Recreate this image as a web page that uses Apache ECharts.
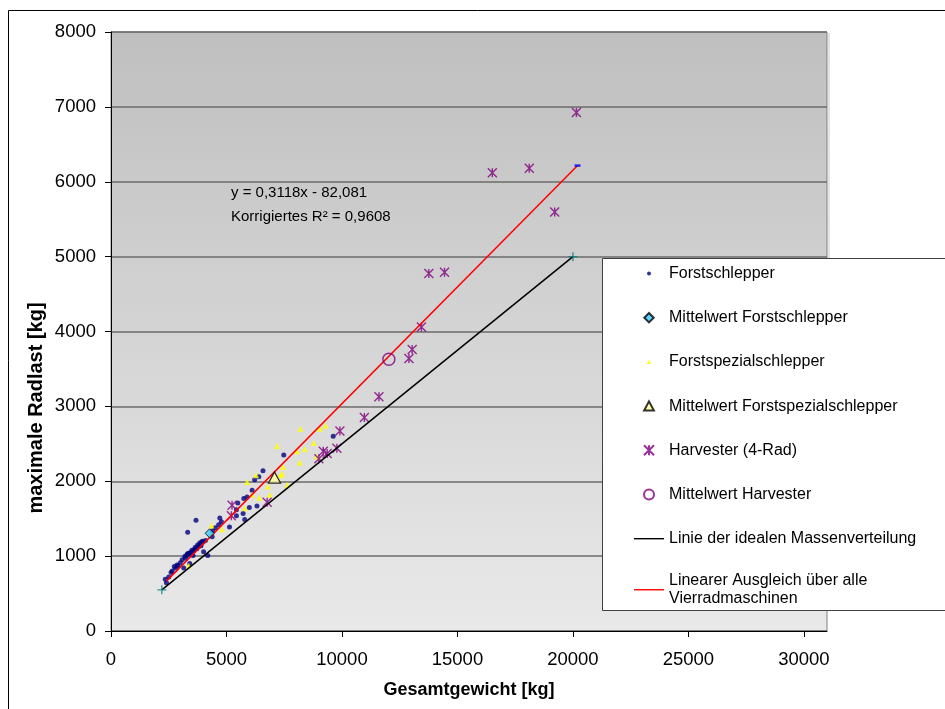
<!DOCTYPE html>
<html>
<head>
<meta charset="utf-8">
<script src="https://cdn.jsdelivr.net/npm/echarts@6/dist/echarts.min.js"></script>
<style>
  html, body { margin: 0; padding: 0; background: #fff; }
  #chart { width: 945px; height: 709px; }
</style>
</head>
<body>
<div id="chart"></div>
<script>
// Gesamtgewicht [kg] / maximale Radlast [kg]
const forstschlepper = [
  [9620, 2600], [7480, 2350], [6580, 2140], [6400, 2060], [6220, 2020], [6110, 1880],
  [5890, 1790], [5750, 1770], [5490, 1710], [6320, 1670], [5990, 1650], [5430, 1620],
  [5720, 1570], [5430, 1540], [5790, 1490], [4710, 1510], [4780, 1460], [3680, 1480],
  [4660, 1420], [5130, 1390], [4520, 1380], [4400, 1340], [3320, 1320], [4380, 1260],
  [4090, 1210], [3990, 1190], [3870, 1160], [3800, 1130], [3720, 1100], [4010, 1060],
  [3580, 1070], [3440, 1050], [3290, 1010], [3220, 970], [3080, 950], [3000, 910],
  [2860, 880], [2740, 860], [3410, 900], [3150, 840], [2600, 780], [2500, 720],
  [2350, 690], [2400, 645], [3550, 1010], [4190, 1010], [2650, 800], [2800, 840],
  [2900, 870], [3200, 1000], [3300, 1030], [3350, 1040], [3400, 1030], [3500, 1080],
  [3600, 1090], [3650, 1120], [3750, 1150], [3850, 1180], [3900, 1140], [3950, 1200]
];
const forstschlepperMittel = [[4270, 1305]];

const forstspezialschlepper = [
  [8200, 2700], [9040, 2700], [9290, 2740], [7190, 2470], [8780, 2510], [8390, 2430],
  [8060, 2400], [8170, 2250], [8900, 2330], [7450, 2190], [7340, 2080], [7410, 2100],
  [7630, 1950], [6280, 2080], [5890, 1990], [6790, 1930], [6870, 1820], [6430, 1780],
  [6110, 1820], [5790, 1640], [4350, 1410], [4810, 1360], [3360, 870]
];
const forstspezialMittel = [[7080, 2050]];

const harvester = [
  [20150, 6925], [18110, 6180], [16510, 6120], [19210, 5595], [14440, 4790], [13760, 4775],
  [13440, 4060], [13040, 3760], [12900, 3640], [11600, 3130], [10970, 2850], [9910, 2670],
  [9780, 2440], [9360, 2370], [9190, 2400], [9000, 2300], [6760, 1720], [5240, 1680],
  [5210, 1540]
];
const harvesterMittel = [[12030, 3630]];

// ideale Massenverteilung (Radlast = Gesamtgewicht / 4)
const idealeLinie = [[2200, 550], [20000, 5000]];
// linearer Ausgleich, Endpunkte
const ausgleichsLinie = [[2400, 666], [20200, 6216]];

const xTickWerte = [0, 5000, 10000, 15000, 20000, 25000, 30000];
const gleichung = 'y = 0,3118x - 82,081';
const bestimmtheit = 'Korrigiertes R\u00B2 = 0,9608';

const FONT = '"Liberation Sans", Arial, sans-serif';
const sternPfad = 'path://M0,0L10,10M10,0L0,10M5,0L5,10';
const kreuzPfad = 'path://M5,0L5,10M0,5L10,5';
// Legendensymbole mit fester Box
const iconPunkt = 'path://M0,0M10,10M3,5a2,2 0 1,0 4,0a2,2 0 1,0 -4,0Z';
const iconRaute = 'path://M0,0M10,10M5,0.3L9.7,5L5,9.7L0.3,5Z';
const iconDreieckKlein = 'path://M0,0M10,10M5,2.8L7.4,7L2.6,7Z';
const iconDreieck = 'path://M0,0M10,10M5,0.3L9.9,9.4L0.1,9.4Z';
const iconLinie = 'path://M0,0M30,10M0,4.3L30,4.3L30,5.7L0,5.7Z';

const zahl = v => String(v);

const chart = echarts.init(document.getElementById('chart'), null, { renderer: 'canvas' });

chart.setOption({
  animation: false,
  textStyle: { fontFamily: FONT },
  grid: {
    left: 111, top: 32, width: 716, height: 599,
    show: true,
    borderColor: '#808080',
    borderWidth: 1,
    backgroundColor: new echarts.graphic.LinearGradient(0, 0, 0, 1, [
      { offset: 0, color: '#bfbfbf' },
      { offset: 1, color: '#e9e9e9' }
    ])
  },
  xAxis: {
    type: 'value',
    min: 0, max: 31000, interval: 5000,
    axisLine: { show: true, lineStyle: { color: '#000', width: 1 } },
    axisTick: { show: true, length: 6, lineStyle: { color: '#000' }, customValues: xTickWerte },
    axisLabel: { customValues: xTickWerte, formatter: zahl, color: '#000', fontSize: 18.5, margin: 19, fontFamily: FONT },
    splitLine: { show: false },
    name: 'Gesamtgewicht [kg]',
    nameLocation: 'middle',
    nameGap: 50,
    nameTextStyle: { fontSize: 18, fontWeight: 'bold', color: '#000', fontFamily: FONT }
  },
  yAxis: {
    type: 'value',
    min: 0, max: 8000, interval: 1000,
    axisLine: { show: true, lineStyle: { color: '#000', width: 1 } },
    axisTick: { show: true, length: 6, lineStyle: { color: '#000' } },
    axisLabel: { formatter: zahl, color: '#000', fontSize: 18.5, margin: 15, fontFamily: FONT },
    splitLine: { show: true, lineStyle: { color: '#6b6b6b', width: 1.5 } }
  },
  legend: [
    {
      orient: 'vertical',
      left: 634, top: 265, padding: 0,
      itemWidth: 30, itemHeight: 10, itemGap: 27.2,
      selectedMode: false,
      textStyle: { fontSize: 16, lineHeight: 17, color: '#000', fontFamily: FONT },
      data: [
        { name: 'Forstschlepper', icon: iconPunkt },
        { name: 'Mittelwert Forstschlepper', icon: iconRaute },
        { name: 'Forstspezialschlepper', icon: iconDreieckKlein },
        { name: 'Mittelwert Forstspezialschlepper', icon: iconDreieck },
        { name: 'Harvester (4-Rad)' },
        { name: 'Mittelwert Harvester' },
        { name: 'Linie der idealen Massenverteilung', icon: iconLinie, itemStyle: { color: '#000' } }
      ]
    },
    {
      orient: 'vertical',
      left: 634, top: 563.5, padding: 0,
      itemWidth: 30, itemHeight: 10,
      selectedMode: false,
      textStyle: { fontSize: 16, lineHeight: 17.5, padding: [17.5, 0, 0, 0], color: '#000', fontFamily: FONT },
      data: [
        { name: 'Linearer Ausgleich über alle\nVierradmaschinen', icon: iconLinie, itemStyle: { color: '#ff0000' } }
      ]
    }
  ],
  graphic: [
    { type: 'rect', z: 3, silent: true,
      shape: { x: 8.5, y: 10.5, width: 1000, height: 1000 },
      style: { fill: 'none', stroke: '#000', lineWidth: 1 } },
    // heller Schatten rechts neben der Zeichenfläche
    { type: 'rect', z: 3, silent: true,
      shape: { x: 828, y: 33, width: 2, height: 225 },
      style: { fill: '#e4e4e4' } },
    { type: 'rect', z: 3, silent: true,
      shape: { x: 602.5, y: 258.5, width: 400, height: 352 },
      style: { fill: '#fff', stroke: '#404040', lineWidth: 1 } },
    { type: 'text', z: 6, silent: true,
      style: { text: gleichung, x: 231, y: 193, verticalAlign: 'middle', font: '15px ' + FONT, fill: '#000' } },
    { type: 'text', z: 6, silent: true,
      style: { text: bestimmtheit, x: 231, y: 216.5, verticalAlign: 'middle', font: '15px ' + FONT, fill: '#000' } },
    { type: 'text', z: 6, silent: true,
      x: 36, y: 408, rotation: Math.PI / 2,
      style: { text: 'maximale Radlast [kg]', align: 'center', verticalAlign: 'middle',
        font: 'bold 20px ' + FONT, fill: '#000' } }
  ],
  series: [
    { name: 'Forstschlepper', type: 'scatter', data: forstschlepper, z: 2,
      symbol: 'circle', symbolSize: 5, itemStyle: { color: '#000080' } },
    { name: 'Mittelwert Forstschlepper', type: 'scatter', data: forstschlepperMittel, z: 6,
      symbol: 'diamond', symbolSize: 9,
      itemStyle: { color: '#33ccff', borderColor: '#000', borderWidth: 1 } },
    { name: 'Forstspezialschlepper', type: 'scatter', data: forstspezialschlepper, z: 2,
      symbol: 'triangle', symbolSize: 6, itemStyle: { color: '#ffff00' } },
    { name: 'Mittelwert Forstspezialschlepper', type: 'scatter', data: forstspezialMittel, z: 6,
      symbol: 'triangle', symbolSize: [12, 11],
      itemStyle: { color: '#ffff99', borderColor: '#000', borderWidth: 1.3 } },
    { name: 'Harvester (4-Rad)', type: 'scatter', data: harvester, z: 2,
      symbol: sternPfad, symbolSize: 9,
      itemStyle: { color: '#800080', borderColor: '#800080', borderWidth: 1.4 } },
    { name: 'Mittelwert Harvester', type: 'scatter', data: harvesterMittel, z: 6,
      symbol: 'circle', symbolSize: 12,
      itemStyle: { color: 'rgba(0,0,0,0)', borderColor: '#800080', borderWidth: 1.5 } },
    { name: 'Linie der idealen Massenverteilung', type: 'line', data: idealeLinie, z: 3,
      symbol: 'none', lineStyle: { color: '#000', width: 1.5 }, itemStyle: { color: '#000' } },
    { name: 'Linearer Ausgleich über alle\nVierradmaschinen', type: 'line', data: ausgleichsLinie, z: 3,
      symbol: 'none', lineStyle: { color: '#ff0000', width: 1.5 }, itemStyle: { color: '#ff0000' } },
    { type: 'scatter', data: idealeLinie, z: 4,
      symbol: kreuzPfad, symbolSize: 9,
      itemStyle: { color: '#008080', borderColor: '#008080', borderWidth: 1.3 } },
    { type: 'scatter', data: [ausgleichsLinie[1]], z: 4,
      symbol: 'rect', symbolSize: [6, 2.5], itemStyle: { color: '#0000ff' } }
  ]
});
</script>
</body>
</html>
